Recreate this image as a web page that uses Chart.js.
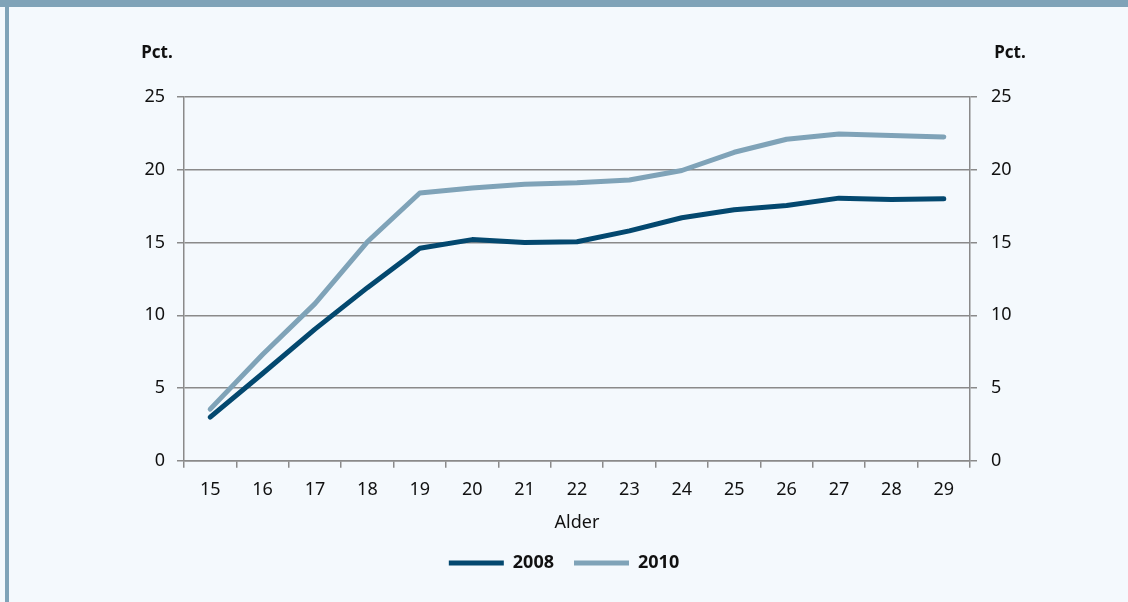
<!DOCTYPE html>
<html>
<head>
<meta charset="utf-8">
<script src="https://cdn.jsdelivr.net/npm/chart.js@4"></script>
<style>
  html, body { margin: 0; padding: 0; }
  body { width: 1128px; height: 602px; background: #f4f9fd; position: relative; overflow: hidden; font-family: 'Noto Sans', sans-serif; }
  .bar { position: absolute; left: 0; top: 0; width: 1128px; height: 7px; background: #7fa3b8; }
  .side { position: absolute; left: 5px; top: 0; width: 4px; height: 602px; background: #7fa3b8; }
  #wrap { position: absolute; left: 0; top: 0; width: 1128px; height: 602px; }
</style>
</head>
<body>
<div class="bar"></div>
<div class="side"></div>
<div id="wrap"><canvas id="c"></canvas></div>
<script>
// ages (x axis)
const ages = ['15','16','17','18','19','20','21','22','23','24','25','26','27','28','29'];
// share in pct.
const y2008 = [3.0, 6.0, 9.05, 11.9, 14.6, 15.2, 15.0, 15.05, 15.8, 16.7, 17.25, 17.55, 18.05, 17.95, 18.0];
const y2010 = [3.55, 7.3, 10.8, 15.05, 18.4, 18.75, 19.0, 19.1, 19.3, 19.95, 21.2, 22.1, 22.45, 22.35, 22.25];
const yTicks = { min: 0, max: 25, step: 5 };

const C_DARK  = '#03486f';
const C_LIGHT = '#7fa3b8';
const GRID    = '#8a8a8a';
const FONT    = "'Noto Sans', sans-serif";

const pctLabels = {
  id: 'pctLabels',
  afterDraw(chart) {
    const ctx = chart.ctx, a = chart.chartArea;
    ctx.save();
    ctx.fillStyle = '#111';
    ctx.font = 'bold 17px ' + FONT;
    ctx.textAlign = 'center';
    ctx.textBaseline = 'middle';
    ctx.fillText('Pct.', a.left - 27, 53);
    ctx.fillText('Pct.', a.right + 40, 53);
    ctx.restore();
  }
};

const tickFont = { family: FONT, size: 18 };

new Chart(document.getElementById('c'), {
  type: 'line',
  data: {
    labels: ages,
    datasets: [
      { label: '2008', data: y2008, borderColor: C_DARK, backgroundColor: C_DARK, borderWidth: 5, borderCapStyle: 'round', borderJoinStyle: 'round', pointRadius: 0, tension: 0, yAxisID: 'y' },
      { label: '2010', data: y2010, borderColor: C_LIGHT, backgroundColor: C_LIGHT, borderWidth: 5, borderCapStyle: 'round', borderJoinStyle: 'round', pointRadius: 0, tension: 0, yAxisID: 'y' },
    ]
  },
  options: {
    responsive: true,
    maintainAspectRatio: false,
    animation: false,
    layout: { padding: { top: 97, left: 0, right: 0, bottom: 20 } },
    plugins: {
      tooltip: { enabled: false },
      legend: {
        position: 'bottom',
        labels: {
          color: '#111',
          font: { family: FONT, size: 18, weight: 'bold' },
          boxWidth: 55,
          boxHeight: 5,
          useBorderRadius: true,
          borderRadius: 2.5,
          padding: 20,
          generateLabels(chart) {
            return chart.data.datasets.map((d, i) => ({
              text: d.label, fillStyle: d.borderColor, strokeStyle: d.borderColor,
              lineWidth: 0, hidden: false, datasetIndex: i, fontColor: '#111'
            }));
          }
        }
      }
    },
    scales: {
      x: {
        offset: true,
        grid: { offset: true, drawOnChartArea: false, color: GRID, lineWidth: 1.5, tickLength: 7 },
        border: { color: GRID, width: 1.5 },
        ticks: { color: '#111', font: tickFont, padding: 11, maxRotation: 0 },
        title: { display: true, text: 'Alder', color: '#111', font: tickFont, padding: { top: 1, bottom: 0 } },
      },
      y: {
        position: 'left',
        min: yTicks.min, max: yTicks.max,
        afterFit(s) { s.width = 184; },
        grid: { color: GRID, lineWidth: 1.5, tickLength: 7 },
        border: { color: GRID, width: 1.5 },
        ticks: { stepSize: yTicks.step, color: '#111', font: tickFont, padding: 12 },
      },
      y2: {
        position: 'right',
        min: yTicks.min, max: yTicks.max,
        afterFit(s) { s.width = 158; },
        grid: { drawOnChartArea: false, color: GRID, lineWidth: 1.5, tickLength: 7 },
        border: { color: GRID, width: 1.5 },
        ticks: { stepSize: yTicks.step, color: '#111', font: tickFont, padding: 14 },
      }
    }
  },
  plugins: [pctLabels]
});
</script>
</body>
</html>
